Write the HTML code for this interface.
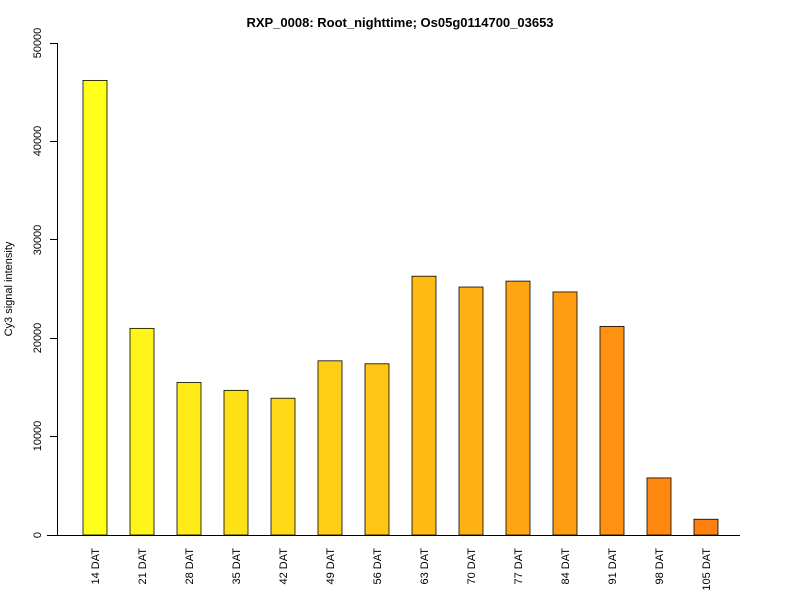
<!DOCTYPE html>
<html><head><style>body{margin:0;background:#fff}svg text{font-family:"Liberation Sans",sans-serif}</style></head>
<body>
<svg width="800" height="600" xmlns="http://www.w3.org/2000/svg">
<text x="400" y="27" font-size="13" font-weight="bold" text-anchor="middle">RXP_0008: Root_nighttime; Os05g0114700_03653</text>
<text transform="translate(12,289) rotate(-90)" font-size="11" text-anchor="middle">Cy3 signal intensity</text>
<g stroke="#000" stroke-width="1">
<line x1="57.5" y1="43" x2="57.5" y2="535"/>
<line x1="50" y1="535.5" x2="57.5" y2="535.5"/>
<line x1="50" y1="436.5" x2="57.5" y2="436.5"/>
<line x1="50" y1="338.5" x2="57.5" y2="338.5"/>
<line x1="50" y1="239.5" x2="57.5" y2="239.5"/>
<line x1="50" y1="141.5" x2="57.5" y2="141.5"/>
<line x1="50" y1="43.5" x2="57.5" y2="43.5"/>
<line x1="47" y1="535.5" x2="740" y2="535.5"/>
</g>
<g font-size="11" text-anchor="middle">
<text transform="translate(41,535) rotate(-90)">0</text>
<text transform="translate(41,436) rotate(-90)">10000</text>
<text transform="translate(41,338) rotate(-90)">20000</text>
<text transform="translate(41,240) rotate(-90)">30000</text>
<text transform="translate(41,141) rotate(-90)">40000</text>
<text transform="translate(41,43) rotate(-90)">50000</text>
</g>
<g stroke="#000" stroke-width="0.8" id="bars"></g>
<g font-size="11" text-anchor="end" id="labs"></g>
<script>
var v=[46200,21000,15500,14700,13900,17700,17400,26300,25200,25800,24700,21200,5800,1600];
var n=["14","21","28","35","42","49","56","63","70","77","84","91","98","105"];
var b=document.getElementById("bars"),l=document.getElementById("labs"),ns="http://www.w3.org/2000/svg";
for(var i=0;i<14;i++){var t=i/13;var g=Math.round(255-t*(255-127)),bl=Math.round(25-t*10);
var c=95+47*i,h=v[i]*0.00984;var r=document.createElementNS(ns,"rect");
r.setAttribute("x",c-12);r.setAttribute("y",535-h);r.setAttribute("width",24);r.setAttribute("height",h);
r.setAttribute("fill","rgb(255,"+g+","+bl+")");b.appendChild(r);
var x=document.createElementNS(ns,"text");x.setAttribute("transform","translate("+(c+4)+",548) rotate(-90)");x.textContent=n[i]+" DAT";l.appendChild(x);}
</script>
</svg>
</body></html>
